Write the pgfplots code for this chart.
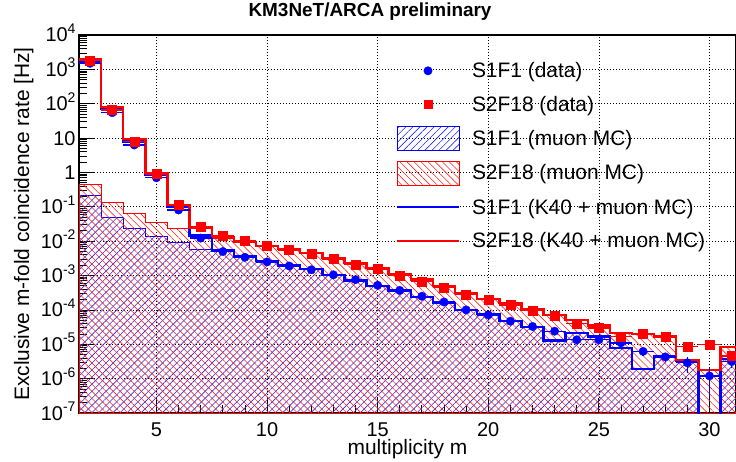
\documentclass[border=0pt]{standalone}
\usepackage{fontspec}
\setmainfont{Liberation Sans}
\usepackage{pgfplots}
\usepackage{pgfplotstable}
\pgfplotsset{compat=1.18}
\usetikzlibrary{patterns.meta}

\newcommand{\tp}[1]{10\raisebox{0.42em}{\fontsize{14}{14}\selectfont #1}}

\pgfplotstableread{
x     bl       rl       bm       rm
1.5   1650     1950     0.22     0.46
2.5   71       79       0.05     0.134
3.5   7.9      9.3      0.024    0.066
4.5   0.85     0.95     0.0138   0.036
5.5   0.098    0.115    0.0095   0.024
6.5   0.0145   0.025    0.0059   0.015
7.5   0.0056   0.0132   0.0050   0.012
8.5   0.0036   0.0093   0.0034   0.0090
9.5   0.0026   0.0071   0.0025   0.0069
10.5  0.00195  0.0059   0.0019   0.0058
11.5  0.00155  0.0045   0.0015   0.0044
12.5  0.00105  0.0032   0.00102  0.0031
13.5  0.00072  0.0023   0.0007   0.0023
14.5  0.00050  0.00165  0.00049  0.00163
15.5  0.00037  0.00112  0.00036  0.0011
16.5  0.00024  0.00076  0.00024  0.00075
17.5  0.00016  0.00050  0.00016  0.00049
18.5  0.00010  0.00031  0.00010  0.00031
19.5  7.5e-5   2.1e-4   7.4e-5   2.1e-4
20.5  4.7e-5   1.6e-4   4.6e-5   1.6e-4
21.5  3.2e-5   1.07e-4  3.1e-5   1.06e-4
22.5  1.3e-5   7.2e-5   1.3e-5   7.1e-5
23.5  2.1e-5   5.0e-5   2.1e-5   5.0e-5
24.5  1.7e-5   3.5e-5   1.7e-5   3.5e-5
25.5  7.8e-6   2.1e-5   7.8e-6   2.1e-5
26.5  1.9e-6   2.0e-5   1.9e-6   2.0e-5
27.5  4.5e-6   1.7e-5   4.5e-6   1.7e-5
28.5  3.3e-6   3.5e-6   3.3e-6   3.5e-6
29.5  1e-9     1.8e-6   1e-9     1.8e-6
30.5  3.7e-6   8.5e-6   3.7e-6   8.5e-6
31.5  3.7e-6   8.5e-6   3.7e-6   8.5e-6
}\hist

\pgfplotstableread{
m   bd       be       rd       re
2   1500     0        1780     0
3   55       0        66       0
4   6.3      0        8.0      0
5   0.7      0        0.9      0
6   0.081    0        0.115    0
7   0.0123   0        0.027    0
8   0.0050   0        0.0145   0
9   0.0034   0        0.0100   0
10  0.0025   0        0.0073   0
11  0.0019   0        0.0055   0
12  0.00147  0        0.0043   0
13  0.00105  0        0.0030   0
14  0.00076  0        0.0021   0
15  0.00052  0        0.00157  0
16  0.00037  0        0.00102  0
17  0.00025  0        0.00068  0
18  0.00017  0        0.00045  0
19  0.00010  0        0.00028  0
20  7.2e-5   0        2.0e-4   0
21  4.7e-5   0        1.4e-4   0
22  3.3e-5   0        9.8e-5   0
23  2.4e-5   0        6.8e-5   0
24  1.35e-5  0        4.0e-5   0
25  1.35e-5  0        3.0e-5   0
26  1.1e-5   0        1.7e-5   0
27  6.2e-6   1.5e-6   2.0e-5   0
28  4.3e-6   1.2e-6   1.7e-5   0
29  2.9e-6   1.4e-6   8.7e-6   1.5e-6
30  1.2e-6   0.9e-6   9.8e-6   1.5e-6
31  3.2e-6   1.1e-6   4.6e-6   1.2e-6
}\pts

\begin{document}
\begin{tikzpicture}
\begin{axis}[
  scale only axis, width=657bp, height=378bp,
  at={(0,0)}, anchor=south west,
  xmin=1.5, xmax=31.2,
  ymode=log, ymin=1e-7, ymax=1e4,
  log origin=infty,
  xtick={5,10,...,30}, minor x tick num=4,
  ytick={1e-7,1e-6,1e-5,1e-4,1e-3,1e-2,1e-1,1,10,100,1000,10000},
  yticklabels={\tp{-7},\tp{-6},\tp{-5},\tp{-4},\tp{-3},\tp{-2},\tp{-1},1,10,\tp{2},\tp{3},\tp{4}},
  xticklabels={5,10,15,20,25,30},
  tick align=inside, tick pos=left,
  major tick length=15bp, minor tick length=8bp,
  xmajorgrids, ymajorgrids,
  grid style={black, line width=0.7bp, dash pattern=on 0.8bp off 2.2bp},
  axis line style={line width=1.2bp},
  every tick/.style={black, line width=0.8bp},
  ticklabel style={font=\fontsize{20}{22}\selectfont},
  xticklabel style={anchor=base, yshift=-23bp},
  yticklabel style={anchor=base east, yshift=-7bp},
  xlabel={multiplicity m},
  ylabel={Exclusive m-fold coincidence rate [Hz]},
  label style={font=\fontsize{21}{24}\selectfont},
  xlabel style={at={(axis description cs:0.5,-0.111)}, anchor=base},
  ylabel style={at={(axis description cs:-0.0761,0.5)}, anchor=base},
  title={KM3NeT/ARCA preliminary},
  title style={font=\bfseries\fontsize{19}{22}\selectfont, at={(axis description cs:0.443,1.032)}, anchor=base},
  legend style={at={(axis description cs:0.4825,0.937)}, anchor=north west, draw=none, fill=none,
    inner sep=0pt, outer sep=0pt, row sep=9.7bp, column sep=12bp,
    font=\fontsize{21}{24}\selectfont, nodes={inner sep=0pt}, cells={anchor=west}},
  legend cell align=left,
]
% muon MC histograms (hatched)
\addplot[const plot mark left, draw=blue, line width=0.8bp,
  pattern={Lines[angle=45,distance=5bp,line width=0.6bp]}, pattern color=blue!85, forget plot]
  table[x=x,y=bm]{\hist} \closedcycle;
\addplot[const plot mark left, draw=red, line width=0.8bp,
  pattern={Lines[angle=-45,distance=5bp,line width=0.6bp]}, pattern color=red!85, forget plot]
  table[x=x,y=rm]{\hist} \closedcycle;
% K40 + muon MC
\addplot[const plot mark left, blue, line width=2.4bp, forget plot] table[x=x,y=bl]{\hist};
\addplot[const plot mark left, red, line width=2.4bp, forget plot] table[x=x,y=rl]{\hist};
% data
\addplot[only marks, mark=*, mark size=4.2bp, blue, forget plot,
  error bars/.cd, x dir=both, x fixed=0.5, y dir=both, y explicit,
  error bar style={line width=1.4bp, blue}, error mark=none]
  table[x=m, y=bd, y error=be]{\pts};
\addplot[only marks, mark=square*, mark size=4.5bp, red, forget plot,
  error bars/.cd, x dir=both, x fixed=0.5, y dir=both, y explicit,
  error bar style={line width=1.4bp, red}, error mark=none]
  table[x=m, y=rd, y error=re]{\pts};
% legend
\addlegendimage{legend image code/.code={\path[draw=none,fill=none] (0bp,-12bp) rectangle (62bp,12bp); \fill[blue] (31bp,0bp) circle (4.2bp);}}
\addlegendentry{S1F1 (data)}
\addlegendimage{legend image code/.code={\path[draw=none,fill=none] (0bp,-12bp) rectangle (62bp,12bp); \fill[red] (27bp,-4bp) rectangle (35bp,4bp);}}
\addlegendentry{S2F18 (data)}
\addlegendimage{legend image code/.code={\draw[blue, line width=0.8bp, pattern={Lines[angle=45,distance=5bp,line width=0.6bp]}, pattern color=blue!85] (0bp,-12bp) rectangle (62bp,12bp);}}
\addlegendentry{S1F1 (muon MC)}
\addlegendimage{legend image code/.code={\draw[red, line width=0.8bp, pattern={Lines[angle=-45,distance=5bp,line width=0.6bp]}, pattern color=red!85] (0bp,-12bp) rectangle (62bp,12bp);}}
\addlegendentry{S2F18 (muon MC)}
\addlegendimage{legend image code/.code={\path[draw=none,fill=none] (0bp,-12bp) rectangle (62bp,12bp); \draw[blue, line width=2bp] (0bp,0bp)--(62bp,0bp);}}
\addlegendentry{S1F1 (K40 + muon MC)}
\addlegendimage{legend image code/.code={\path[draw=none,fill=none] (0bp,-12bp) rectangle (62bp,12bp); \draw[red, line width=2bp] (0bp,0bp)--(62bp,0bp);}}
\addlegendentry{S2F18 (K40 + muon MC)}
\end{axis}
\pgfresetboundingbox
\path (-79bp,-49bp) rectangle (657bp,413bp);
\end{tikzpicture}
\end{document}
